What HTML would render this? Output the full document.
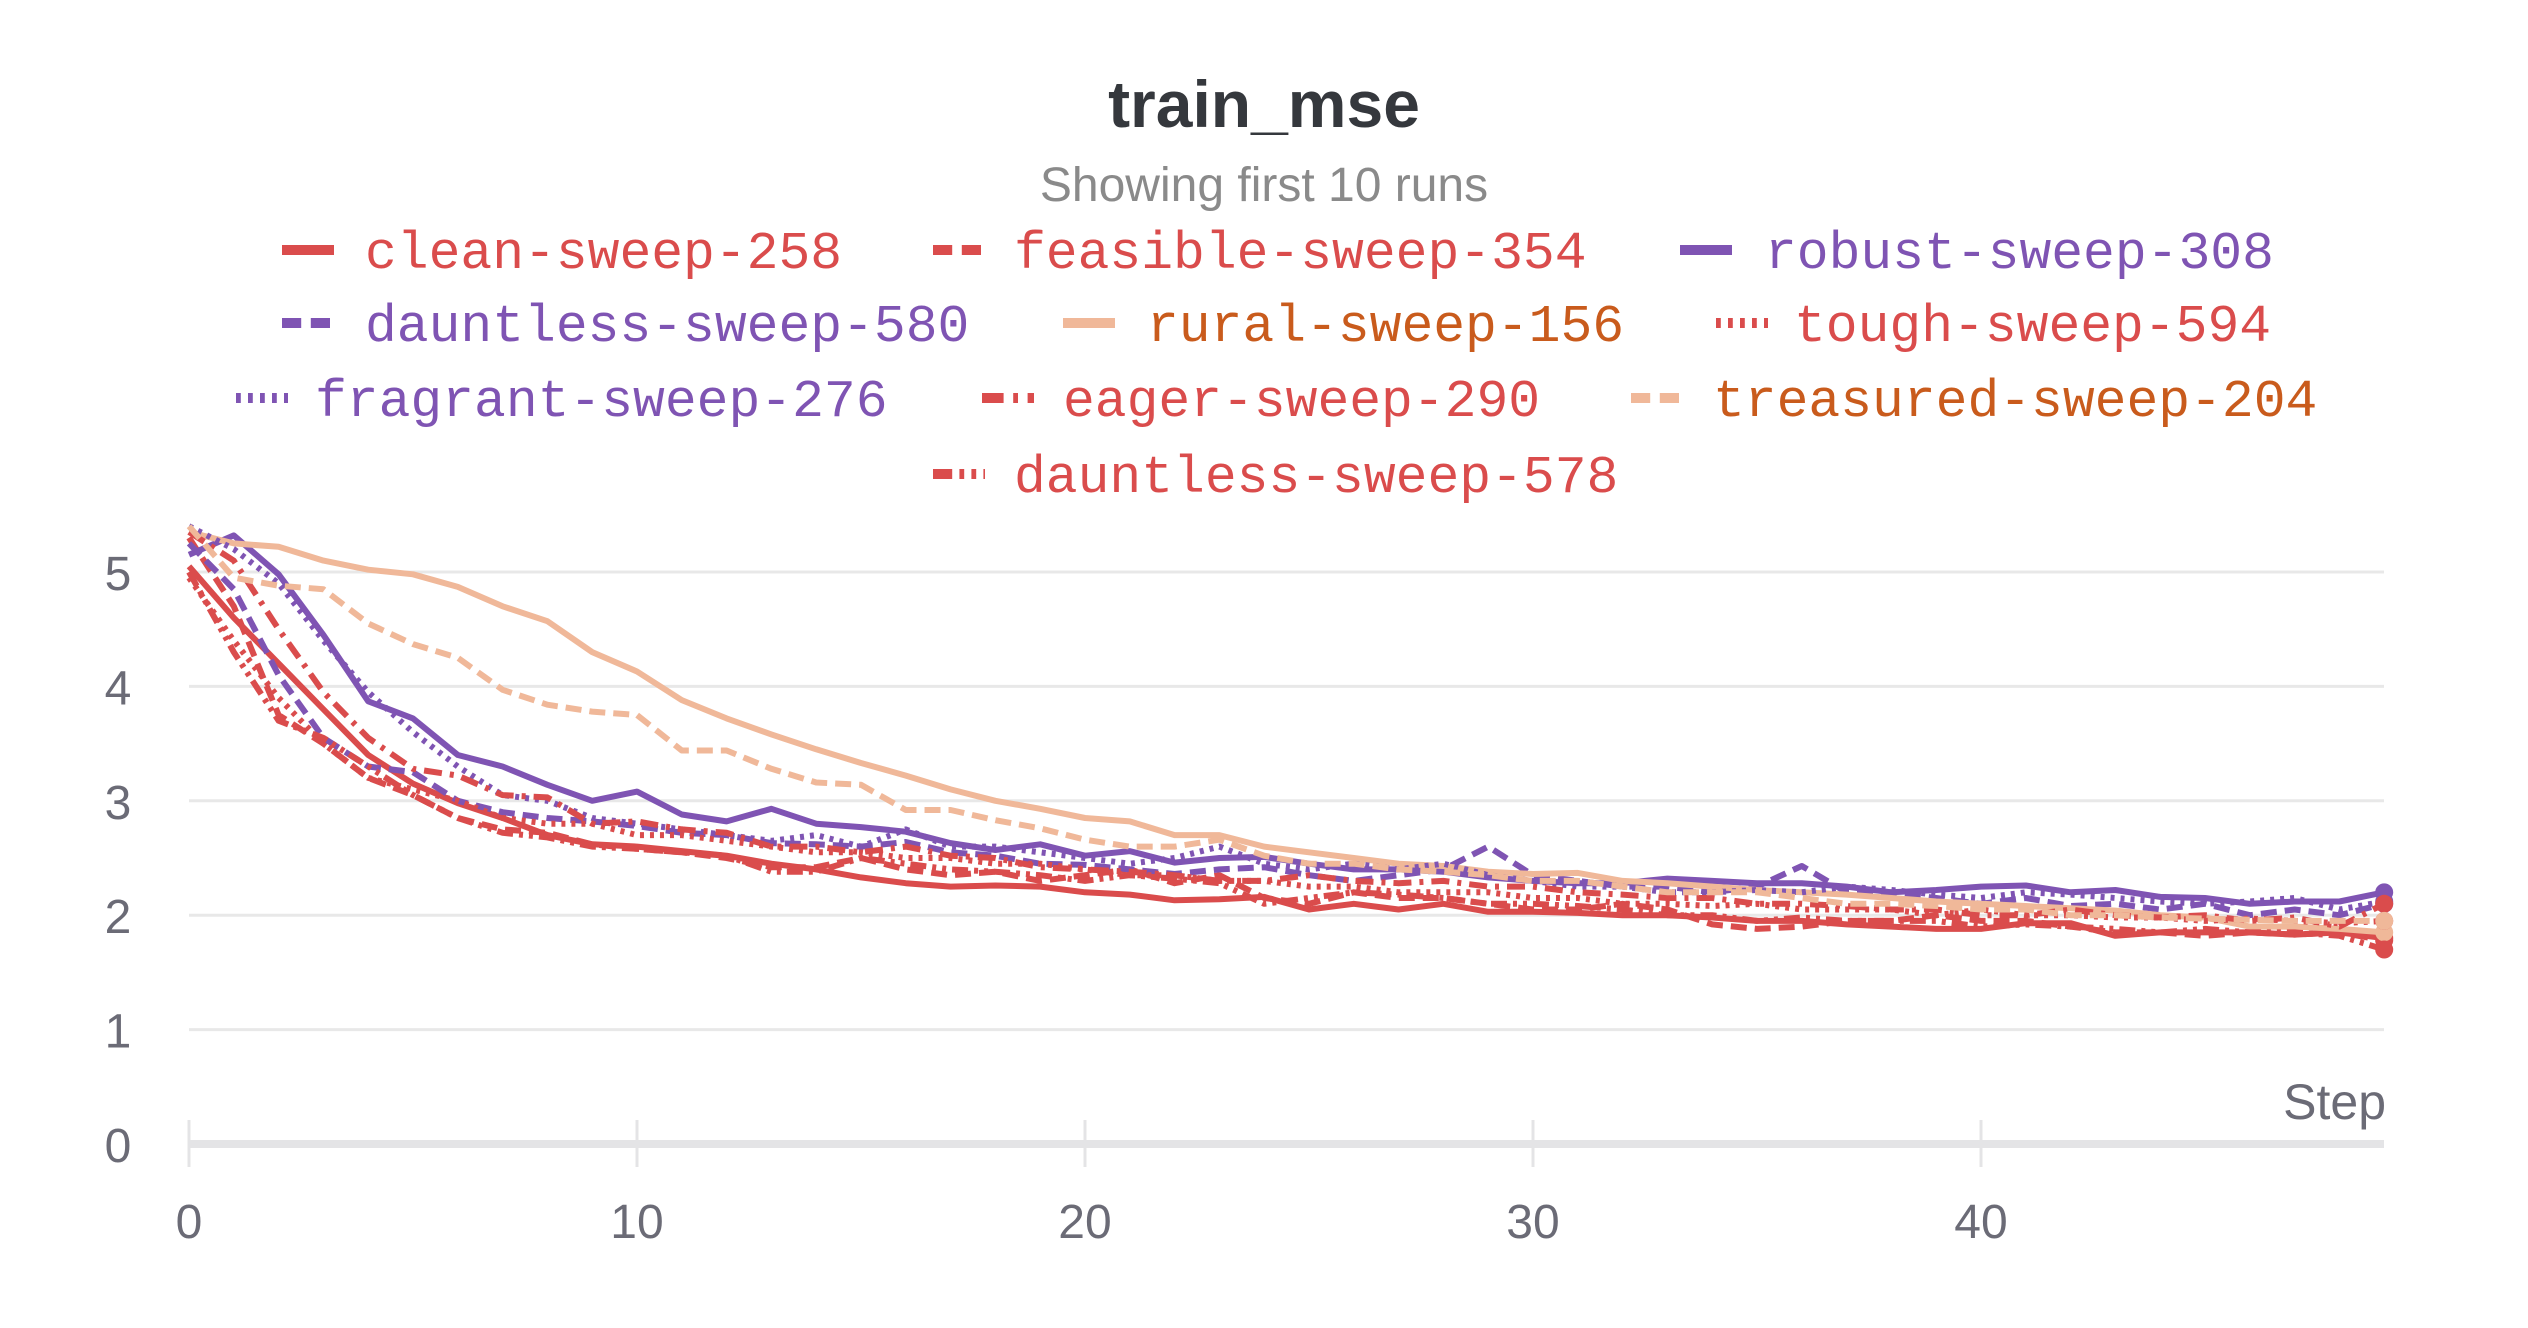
<!DOCTYPE html>
<html><head><meta charset="utf-8"><style>
html,body{margin:0;padding:0;background:#fff;}
body{width:2528px;height:1328px;overflow:hidden;position:relative;font-family:"Liberation Sans",sans-serif;}
.t{position:absolute;white-space:nowrap;}
</style></head><body>
<div class="t" style="left:0;width:2528px;top:66px;text-align:center;font-size:66px;font-weight:bold;color:#35383d;">train_mse</div>
<div class="t" style="left:0;width:2528px;top:158px;text-align:center;font-size:48px;color:#8a8a8a;">Showing first 10 runs</div>
<svg id="chart" width="2528" height="1328" style="position:absolute;left:0;top:0"></svg>
<script>
const steps=[];for(let i=0;i<50;i++)steps.push(i);
const yTicks=[0,1,2,3,4,5];
const xTicks=[0,10,20,30,40];
const cleanSweep258=[5.05,4.6,4.2,3.8,3.4,3.15,2.98,2.85,2.7,2.62,2.6,2.56,2.52,2.45,2.4,2.33,2.28,2.25,2.26,2.25,2.2,2.18,2.13,2.14,2.16,2.05,2.1,2.05,2.1,2.03,2.03,2.02,2.0,2.0,1.98,1.95,1.95,1.92,1.9,1.88,1.88,1.93,1.93,1.82,1.85,1.85,1.85,1.83,1.85,1.8];
const feasibleSweep354=[5.3,4.7,3.75,3.5,3.2,3.05,2.85,2.75,2.72,2.62,2.58,2.55,2.5,2.42,2.42,2.5,2.4,2.35,2.38,2.3,2.35,2.4,2.28,2.35,2.15,2.1,2.2,2.15,2.15,2.1,2.05,2.05,2.1,2.05,1.92,1.88,1.9,1.95,1.95,2.0,1.95,1.95,1.9,1.85,1.85,1.82,1.85,1.83,1.85,1.78];
const robustSweep308=[5.15,5.32,4.98,4.45,3.87,3.72,3.4,3.3,3.14,3.0,3.08,2.88,2.82,2.93,2.8,2.77,2.73,2.63,2.57,2.62,2.52,2.56,2.46,2.5,2.51,2.45,2.4,2.4,2.38,2.33,2.3,2.28,2.28,2.32,2.3,2.28,2.28,2.25,2.2,2.22,2.25,2.26,2.2,2.22,2.16,2.15,2.1,2.12,2.12,2.2];
const dauntlessSweep580=[5.25,4.85,4.1,3.55,3.3,3.25,3.0,2.9,2.85,2.82,2.78,2.72,2.7,2.63,2.62,2.6,2.64,2.55,2.52,2.45,2.44,2.4,2.36,2.4,2.42,2.35,2.3,2.35,2.4,2.6,2.35,2.3,2.25,2.25,2.2,2.25,2.43,2.2,2.2,2.15,2.1,2.15,2.08,2.1,2.05,2.1,2.0,2.05,2.0,2.1];
const ruralSweep156=[5.35,5.25,5.22,5.1,5.02,4.98,4.87,4.7,4.57,4.3,4.13,3.88,3.72,3.58,3.45,3.33,3.22,3.1,3.0,2.93,2.85,2.82,2.7,2.7,2.6,2.55,2.5,2.45,2.43,2.38,2.36,2.37,2.3,2.28,2.25,2.22,2.2,2.18,2.15,2.12,2.1,2.08,2.06,2.04,2.0,1.98,1.9,1.9,1.88,1.85];
const toughSweep594=[4.95,4.4,3.9,3.5,3.2,3.1,3.0,2.85,2.8,2.8,2.7,2.7,2.65,2.6,2.55,2.55,2.5,2.5,2.45,2.45,2.4,2.35,2.35,2.3,2.3,2.25,2.25,2.2,2.2,2.2,2.15,2.15,2.1,2.1,2.08,2.1,2.05,2.05,2.05,2.0,2.05,2.0,2.0,1.98,1.98,1.95,1.97,1.95,1.93,1.95];
const fragrantSweep276=[5.4,5.2,4.9,4.4,3.95,3.6,3.3,3.05,3.0,2.85,2.8,2.75,2.7,2.65,2.7,2.6,2.75,2.6,2.6,2.55,2.5,2.45,2.5,2.6,2.45,2.4,2.45,2.4,2.45,2.35,2.3,2.25,2.25,2.2,2.2,2.22,2.2,2.25,2.22,2.18,2.15,2.2,2.18,2.15,2.12,2.1,2.12,2.15,2.05,2.12];
const eagerSweep290=[5.35,5.1,4.5,3.95,3.55,3.28,3.22,3.05,3.03,2.8,2.82,2.75,2.72,2.6,2.6,2.55,2.6,2.52,2.5,2.42,2.4,2.38,2.35,2.3,2.3,2.35,2.3,2.28,2.3,2.25,2.25,2.2,2.18,2.15,2.15,2.1,2.1,2.08,2.05,2.05,2.0,2.0,2.05,2.0,1.98,2.0,1.95,1.98,1.9,2.1];
const treasuredSweep204=[5.4,4.95,4.88,4.85,4.55,4.37,4.25,3.97,3.84,3.78,3.75,3.44,3.44,3.28,3.16,3.14,2.92,2.92,2.83,2.76,2.66,2.6,2.6,2.66,2.52,2.45,2.45,2.4,2.38,2.35,2.3,2.3,2.25,2.2,2.2,2.2,2.15,2.1,2.1,2.08,2.05,2.05,2.0,2.0,1.98,1.97,1.96,1.95,1.95,1.95];
const dauntlessSweep578=[5.0,4.3,3.7,3.55,3.3,3.05,2.85,2.72,2.68,2.6,2.58,2.55,2.52,2.38,2.38,2.5,2.45,2.4,2.38,2.35,2.3,2.35,2.32,2.28,2.1,2.15,2.2,2.18,2.15,2.1,2.1,2.08,2.05,2.0,2.0,1.95,1.98,1.95,1.95,1.95,1.9,1.92,1.9,1.88,1.85,1.88,1.85,1.85,1.82,1.7];

const RED='#da4c4c',PUR='#7f54b3',PEA='#f0b899',ORN='#c95b1c';
const series=[
 {name:'clean-sweep-258',d:cleanSweep258,c:RED,tc:RED,dash:'',lx:365,ly:256,sx:282},
 {name:'feasible-sweep-354',d:feasibleSweep354,c:RED,tc:RED,dash:'16 8',lx:1014,ly:256,sx:933},
 {name:'robust-sweep-308',d:robustSweep308,c:PUR,tc:PUR,dash:'',lx:1765,ly:256,sx:1680},
 {name:'dauntless-sweep-580',d:dauntlessSweep580,c:PUR,tc:PUR,dash:'16 8',lx:365,ly:329,sx:282},
 {name:'rural-sweep-156',d:ruralSweep156,c:PEA,tc:ORN,dash:'',lx:1147,ly:329,sx:1063},
 {name:'tough-sweep-594',d:toughSweep594,c:RED,tc:RED,dash:'4 6',lx:1794,ly:329,sx:1716},
 {name:'fragrant-sweep-276',d:fragrantSweep276,c:PUR,tc:PUR,dash:'4 6',lx:315,ly:404,sx:236},
 {name:'eager-sweep-290',d:eagerSweep290,c:RED,tc:RED,dash:'18 8 4 8',lx:1063,ly:404,sx:982},
 {name:'treasured-sweep-204',d:treasuredSweep204,c:PEA,tc:ORN,dash:'16 8',lx:1713,ly:404,sx:1631},
 {name:'dauntless-sweep-578',d:dauntlessSweep578,c:RED,tc:RED,dash:'16 6 4 6 4 6',lx:1014,ly:480,sx:933}
];
const X0=189,XS=44.8,Y0=1144,YS=114.4,XEND=2384;
const xs=v=>X0+v*XS, ys=v=>Y0-v*YS;
const NS='http://www.w3.org/2000/svg';
const svg=document.getElementById('chart');
function mk(tag,attrs){const e=document.createElementNS(NS,tag);for(const k in attrs)e.setAttribute(k,attrs[k]);return e;}
yTicks.forEach(t=>{
 if(t>0){const g=mk('line',{x1:X0,x2:XEND,y1:ys(t),y2:ys(t),stroke:'#e8e8e8','stroke-width':3});
 
 svg.appendChild(g);}
 const l=mk('text',{x:118,y:ys(t)+18,'text-anchor':'middle','font-size':48,fill:'#6b6b76','font-family':'Liberation Sans, sans-serif'});
 l.textContent=t;
 
 svg.appendChild(l);
});
const ax=mk('line',{x1:X0,x2:XEND,y1:Y0,y2:Y0,stroke:'#e4e4e6','stroke-width':8});

svg.appendChild(ax);
xTicks.forEach(t=>{
 const k=mk('line',{x1:xs(t),x2:xs(t),y1:1120,y2:1167,stroke:'#e4e4e6','stroke-width':3});
 
 svg.appendChild(k);
 const l=mk('text',{x:xs(t),y:1238,'text-anchor':'middle','font-size':48,fill:'#6b6b76','font-family':'Liberation Sans, sans-serif'});
 l.textContent=t;
 
 svg.appendChild(l);
});
const st=mk('text',{x:2386,y:1119,'text-anchor':'end','font-size':50,fill:'#6b6b76','font-family':'Liberation Sans, sans-serif'});
st.textContent='Step';

svg.appendChild(st);
series.forEach(s=>{
 const p=s.d.map((v,i)=>(i?'L':'M')+xs(steps[i]).toFixed(1)+','+ys(v).toFixed(1)).join('');
 const a={d:p,fill:'none',stroke:s.c,'stroke-width':6,'stroke-linejoin':'round'};
 if(s.dash)a['stroke-dasharray']=s.dash;
 const e=mk('path',a);
 
 svg.appendChild(e);
 const n=s.d.length-1;
 const c=mk('circle',{cx:xs(steps[n]),cy:ys(s.d[n]),r:9,fill:s.c});
 
 svg.appendChild(c);
 const sw=mk('line',{x1:s.sx,x2:s.sx+52,y1:s.ly-6,y2:s.ly-6,stroke:s.c,'stroke-width':10});
 if(s.dash)sw.setAttribute('stroke-dasharray',s.dash.split(' ').map(v=>v*1.2).join(' '));
 
 svg.appendChild(sw);
 const lt=mk('text',{x:s.lx,y:s.ly+12,'font-size':53,fill:s.tc,'font-family':'Liberation Mono, monospace'});
 lt.textContent=s.name;
 
 svg.appendChild(lt);
});
</script>
</body></html>
